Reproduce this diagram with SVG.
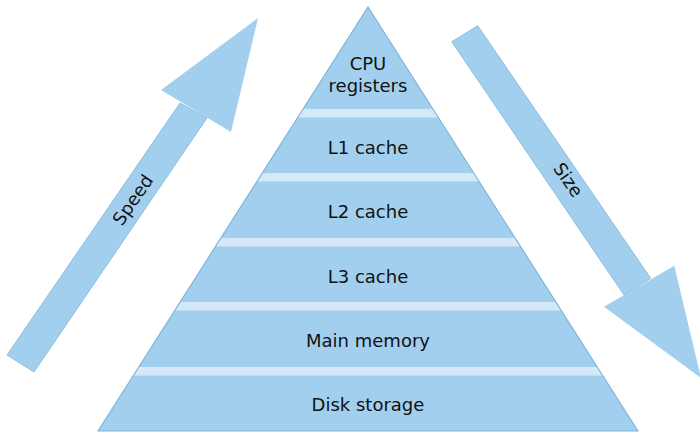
<svg xmlns="http://www.w3.org/2000/svg" width="700" height="432" viewBox="0 0 700 432">
<style>
.lvl{fill:#a3cfef;stroke:none}
.bg{fill:#d5e8f7;stroke:none}
.outline{fill:none;stroke:#7fb5dc;stroke-width:1.2;stroke-linejoin:round}
.head{fill:#a3cfef;stroke:none}
.shaft{fill:#a3cfef;stroke:#7fb5dc;stroke-width:0.8}
text{font-family:"DejaVu Sans","Noto Sans",sans-serif;font-size:18px;fill:#111;text-anchor:middle}
</style>
<rect width="700" height="432" fill="#ffffff"/>
<polygon class="bg" points="368,7 638,431 98,431"/>
<g id="cpu-registers">
<polygon class="lvl" points="368,7 432.95,109 303.05,109"/>
<text x="368" y="70">CPU</text>
<text x="368" y="92">registers</text>
</g>
<g id="l1-cache">
<polygon class="lvl" points="297.63,117.5 438.37,117.5 473.71,173 262.29,173"/>
<text x="368" y="154">L1 cache</text>
</g>
<g id="l2-cache">
<polygon class="lvl" points="256.88,181.5 479.12,181.5 515.10,238 220.90,238"/>
<text x="368" y="218">L2 cache</text>
</g>
<g id="l3-cache">
<polygon class="lvl" points="215.49,246.5 520.51,246.5 555.85,302 180.15,302"/>
<text x="368" y="283">L3 cache</text>
</g>
<g id="main-memory">
<polygon class="lvl" points="174.73,310.5 561.27,310.5 597.24,367 138.76,367"/>
<text x="368" y="347">Main memory</text>
</g>
<g id="disk-storage">
<polygon class="lvl" points="133.34,375.5 602.66,375.5 638,431 98,431"/>
<text x="368" y="411">Disk storage</text>
</g>
<polygon class="outline" points="368,7 638,431 98,431"/>
<g id="connectors">
<g id="speed-arrow">
<polygon class="head" points="161,90 258,18 231,132"/>
<polygon class="shaft" points="7,355 180,103 207,118 34,372"/>
<text transform="translate(133,200) rotate(-55.6)" y="6">Speed</text>
</g>
<g id="size-arrow">
<polygon class="head" points="604,306.7 674.3,265.7 701,378"/>
<polygon class="shaft" points="451.7,41.7 477.7,25.7 650.7,278.3 624,295"/>
<text transform="translate(568,180) rotate(55.6)" y="6">Size</text>
</g>
</g>
</svg>
